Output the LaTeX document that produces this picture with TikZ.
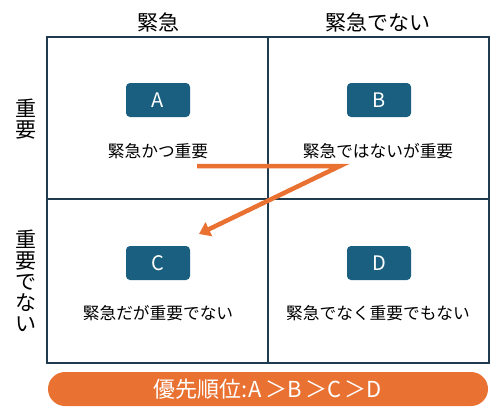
\documentclass[tikz,border=0pt]{standalone}
\usepackage{fontspec}
\newfontfamily\jp{Noto Sans CJK JP}
\usepackage{tikz}
\usetikzlibrary{arrows.meta}
\definecolor{gridline}{HTML}{1F3B4F}
\definecolor{boxblue}{HTML}{1A5F80}
\definecolor{prioorange}{HTML}{E97132}

\begin{document}
\begin{tikzpicture}[x=1pt, y=-1pt,
  letterbox/.style = {fill=boxblue, rounded corners=4pt, minimum width=64pt, minimum height=34pt, inner sep=0pt, text=white, font=\jp\fontsize{20}{20}\selectfont},
  quadlabel/.style = {font=\jp\fontsize{16.7}{17}\selectfont, inner sep=0pt},
  axislabel/.style = {font=\jp\fontsize{21}{21}\selectfont, inner sep=0pt, align=center}]
\useasboundingbox (0,0) rectangle (490,415);
\fill[white] (0,0) rectangle (490,415);
% grid
\draw[gridline, line width=2pt] (47,37) rectangle (489,363);
\draw[gridline, line width=1.5pt] (268,37)--(268,363);
\draw[gridline, line width=2pt] (47,199)--(489,199);
% axis headings
\node[axislabel] (urgent) at (158,22) {緊急};
\node[axislabel] (noturgent) at (378,22) {緊急でない};
\node[axislabel] (important) at (26,119) {重\\要};
\node[axislabel] (notimportant) at (26,281) {重\\要\\で\\な\\い};
% quadrants
\node[letterbox] (A) at (158,100) {A};
\node[letterbox] (B) at (379,100) {B};
\node[letterbox] (C) at (158,263) {C};
\node[letterbox] (D) at (379,263) {D};
\node[quadlabel] (Alabel) at (158,151) {緊急かつ重要};
\node[quadlabel] (Blabel) at (378,151) {緊急ではないが重要};
\node[quadlabel] (Clabel) at (158,313) {緊急だが重要でない};
\node[quadlabel] (Dlabel) at (378,313) {緊急でなく重要でもない};
% order arrow
\coordinate (start) at (197,166);
\coordinate (turn) at (340,166);
\coordinate (tip) at (199,234);
\draw[prioorange, line width=4.5pt, -{Triangle[length=11pt, width=15pt]}] (start)--(turn)--(tip);
% priority banner
\node[fill=prioorange, rounded corners=17pt, minimum width=440pt, minimum height=34pt, inner sep=0pt, text=white, font=\jp\fontsize{22}{22}\selectfont] (order) at (268,389) {優先順位:A\,＞B\,＞C\,＞D};
\end{tikzpicture}
\end{document}
